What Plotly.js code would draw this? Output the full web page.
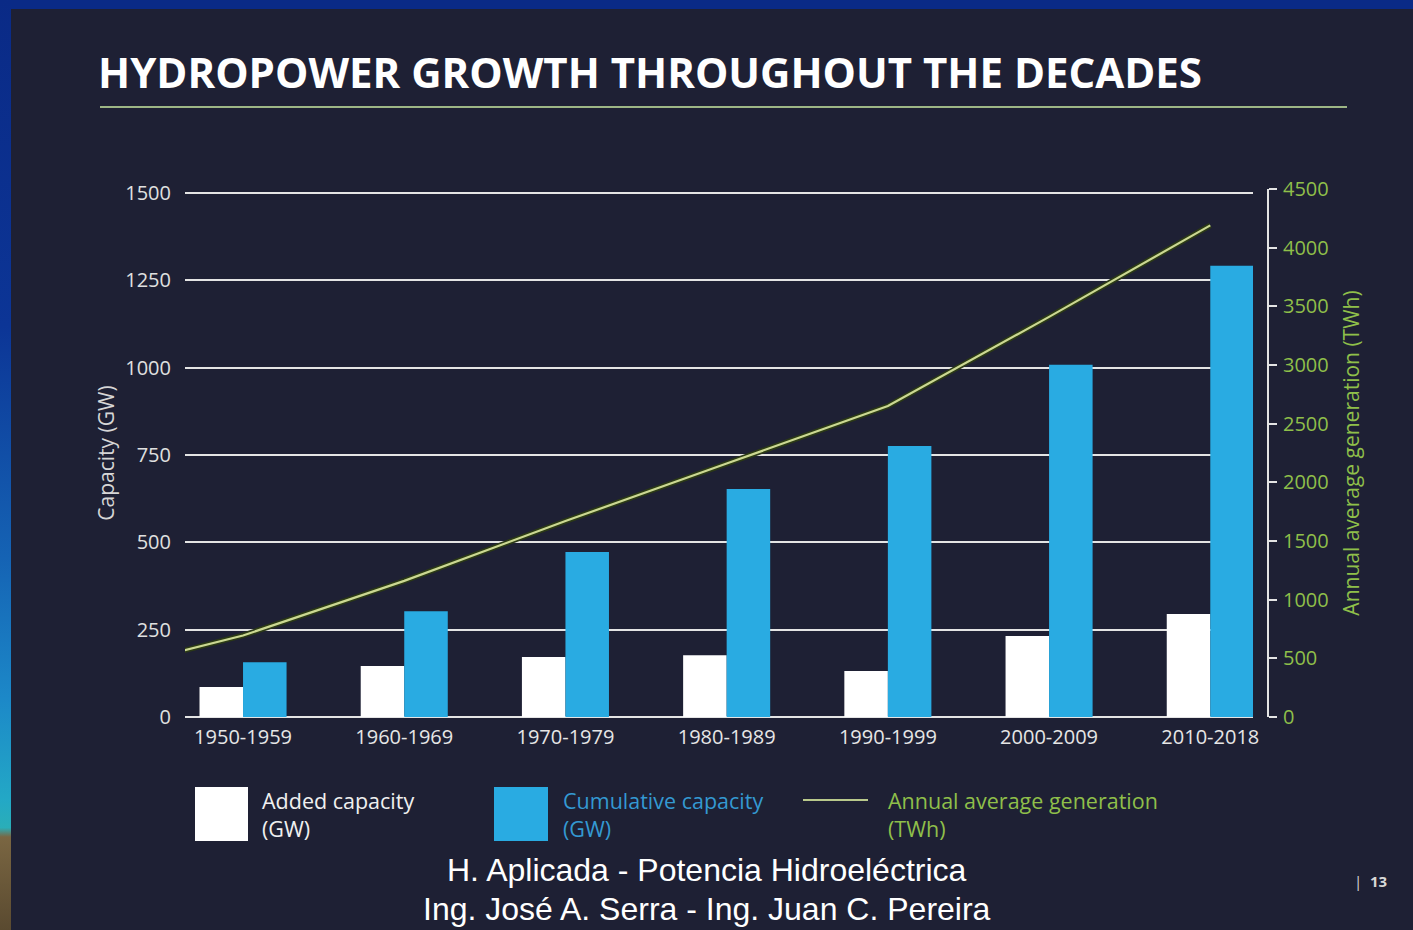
<!DOCTYPE html>
<html>
<head>
<meta charset="utf-8">
<script src="https://cdn.plot.ly/plotly-3.0.1.min.js"></script>
<style>
  html, body { margin: 0; padding: 0; background: #1e2034; }
  #wrap { position: relative; width: 1413px; height: 930px; overflow: hidden; }
  #chart { position: absolute; left: 0; top: 0; width: 1413px; height: 930px; }
  .edge { position: absolute; pointer-events: none; }
  #edgeTop { left: 0; top: 0; width: 1413px; height: 9px; background: #0a2a86; }
  #edgeLeft { left: 0; top: 0; width: 11px; height: 930px;
    background: linear-gradient(to bottom, #0a2a86 0%, #0c3596 35%, #1563b4 60%, #1c88c8 75%, #23a8c6 86%, #2aaeb8 89%, #7a6642 90%, #5a4a30 100%); }
</style>
</head>
<body>
<div id="wrap">
  <div id="chart"></div>
  <div class="edge" id="edgeTop"></div>
  <div class="edge" id="edgeLeft"></div>
</div>
<script>
// Decades shown on the category axis
const decades = ['1950-1959', '1960-1969', '1970-1979', '1980-1989', '1990-1999', '2000-2009', '2010-2018'];

// Capacity per decade (GW)
const addedCapacity = [86, 146, 172, 177, 132, 232, 295];
const cumulativeCapacity = [157, 303, 472, 653, 776, 1008, 1292];

// Annual average generation (TWh), placed on a year scale (decade midpoints)
const generationYears = [1950, 1955, 1965, 1975, 1985, 1995, 2005, 2015];
const generationTWh = [520, 695, 1160, 1670, 2160, 2650, 3410, 4190];

// Tick values of both value axes
const capacityTicks = [0, 250, 500, 750, 1000, 1250, 1500];
const generationTicks = [0, 500, 1000, 1500, 2000, 2500, 3000, 3500, 4000, 4500];

const W = 1413, H = 930;
const px = v => v / W;
const py = v => 1 - v / H;

const PANEL = '#1e2034';
const BLUE = '#29abe2';
const GREEN_TEXT = '#8fbf4a';
const LINE_LIGHT = '#cbd892';
const LINE_DARK = '#2c3a16';
const FONT = 'Open Sans, Lato, sans-serif';

// Category axis range; the year axis is tied to it (10 years per category, centre of the first at 1955)
const catRange = [-0.36, 6.265];
const yearRange = catRange.map(c => 1955 + 10 * c);

const traces = [
  {
    type: 'bar', name: 'Added capacity (GW)',
    x: decades, y: addedCapacity,
    marker: { color: '#ffffff', line: { width: 0 } },
    hoverinfo: 'x+y'
  },
  {
    type: 'bar', name: 'Cumulative capacity (GW)',
    x: decades, y: cumulativeCapacity,
    marker: { color: BLUE, line: { width: 0 } },
    hoverinfo: 'x+y'
  },
  {
    type: 'scatter', mode: 'lines', name: 'outline',
    x: generationYears, y: generationTWh,
    xaxis: 'x2', yaxis: 'y2',
    line: { color: LINE_DARK, width: 5.5 },
    hoverinfo: 'skip', showlegend: false
  },
  {
    type: 'scatter', mode: 'lines', name: 'Annual average generation (TWh)',
    x: generationYears, y: generationTWh,
    xaxis: 'x2', yaxis: 'y2',
    line: { color: LINE_LIGHT, width: 2.2 },
    hoverinfo: 'x+y'
  }
];

const legendFont = { family: FONT, size: 21.5 };

const layout = {
  width: W, height: H,
  margin: { l: 0, r: 0, t: 0, b: 0 },
  paper_bgcolor: PANEL,
  plot_bgcolor: 'rgba(0,0,0,0)',
  showlegend: false,
  barmode: 'group',
  bargap: 0.46,
  bargroupgap: 0,
  font: { family: FONT, color: '#e6e6e6' },
  title: {
    text: '<b>HYDROPOWER GROWTH THROUGHOUT THE DECADES</b>',
    x: px(98), xanchor: 'left', xref: 'paper',
    y: py(73), yanchor: 'middle', yref: 'paper',
    font: { family: FONT, size: 42, color: '#ffffff' }
  },
  xaxis: {
    domain: [px(185), px(1253)],
    type: 'category',
    range: catRange,
    showgrid: false, showline: false, zeroline: false,
    ticks: '',
    tickfont: { family: FONT, size: 20, color: '#e6e6e6' },
    ticklabelstandoff: 6,
    fixedrange: true
  },
  xaxis2: {
    overlaying: 'x',
    range: yearRange,
    visible: false,
    fixedrange: true
  },
  yaxis: {
    domain: [py(717), py(189)],
    range: [0, 1500 * 528 / 524],
    tickvals: capacityTicks,
    showgrid: true, gridcolor: '#e4e4e4', gridwidth: 2,
    zeroline: true, zerolinecolor: '#e4e4e4', zerolinewidth: 2,
    showline: false, ticks: '',
    tickfont: { family: FONT, size: 20, color: '#e0e0e0' },
    ticklabelstandoff: 13,
    title: {
      text: 'Capacity (GW)',
      font: { family: FONT, size: 21, color: '#d6d6d6' },
      standoff: 4
    },
    fixedrange: true
  },
  yaxis2: {
    overlaying: 'y',
    side: 'right',
    anchor: 'free',
    position: px(1268),
    range: [0, 4500],
    tickvals: generationTicks,
    showgrid: false, zeroline: false,
    showline: true, linecolor: '#e4e4e4', linewidth: 2,
    ticks: 'outside', ticklen: 8, tickwidth: 2, tickcolor: '#e4e4e4',
    tickfont: { family: FONT, size: 20, color: GREEN_TEXT },
    ticklabelstandoff: 2,
    title: {
      text: 'Annual average generation (TWh)',
      font: { family: FONT, size: 21, color: GREEN_TEXT },
      standoff: 16
    },
    fixedrange: true
  },
  shapes: [
    // rule under the heading
    { type: 'line', xref: 'paper', yref: 'paper', x0: px(100), x1: px(1347), y0: py(107), y1: py(107),
      line: { color: '#9db585', width: 2 } },
    // legend swatches
    { type: 'rect', xref: 'paper', yref: 'paper', x0: px(195), x1: px(248), y0: py(841), y1: py(787),
      fillcolor: '#ffffff', line: { width: 0 } },
    { type: 'rect', xref: 'paper', yref: 'paper', x0: px(494), x1: px(548), y0: py(841), y1: py(787),
      fillcolor: BLUE, line: { width: 0 } },
    { type: 'line', xref: 'paper', yref: 'paper', x0: px(803), x1: px(868), y0: py(800), y1: py(800),
      line: { color: '#b9c98c', width: 2 } }
  ],
  annotations: [
    { xref: 'paper', yref: 'paper', x: px(260), y: py(814), xanchor: 'left', yanchor: 'middle', align: 'left',
      showarrow: false, text: 'Added capacity<br>(GW)', font: Object.assign({ color: '#f0f0f0' }, legendFont) },
    { xref: 'paper', yref: 'paper', x: px(561), y: py(814), xanchor: 'left', yanchor: 'middle', align: 'left',
      showarrow: false, text: 'Cumulative capacity<br>(GW)', font: Object.assign({ color: '#3499d2' }, legendFont) },
    { xref: 'paper', yref: 'paper', x: px(886), y: py(814), xanchor: 'left', yanchor: 'middle', align: 'left',
      showarrow: false, text: 'Annual average generation<br>(TWh)', font: Object.assign({ color: GREEN_TEXT }, legendFont) },
    // slide footer
    { xref: 'paper', yref: 'paper', x: 0.5, y: py(870), xanchor: 'center', yanchor: 'middle',
      showarrow: false, text: 'H. Aplicada - Potencia Hidroeléctrica',
      font: { family: 'Liberation Sans, Arial, sans-serif', size: 32, color: '#ffffff' } },
    { xref: 'paper', yref: 'paper', x: 0.5, y: py(909), xanchor: 'center', yanchor: 'middle',
      showarrow: false, text: 'Ing. José A. Serra - Ing. Juan C. Pereira',
      font: { family: 'Liberation Sans, Arial, sans-serif', size: 32, color: '#ffffff' } },
    { xref: 'paper', yref: 'paper', x: px(1352), y: py(881), xanchor: 'left', yanchor: 'middle',
      showarrow: false, text: '|  <b>13</b>',
      font: { family: FONT, size: 15, color: '#d8d8d8' } }
  ]
};

Plotly.newPlot('chart', traces, layout, { displayModeBar: false, staticPlot: true });
</script>
</body>
</html>
